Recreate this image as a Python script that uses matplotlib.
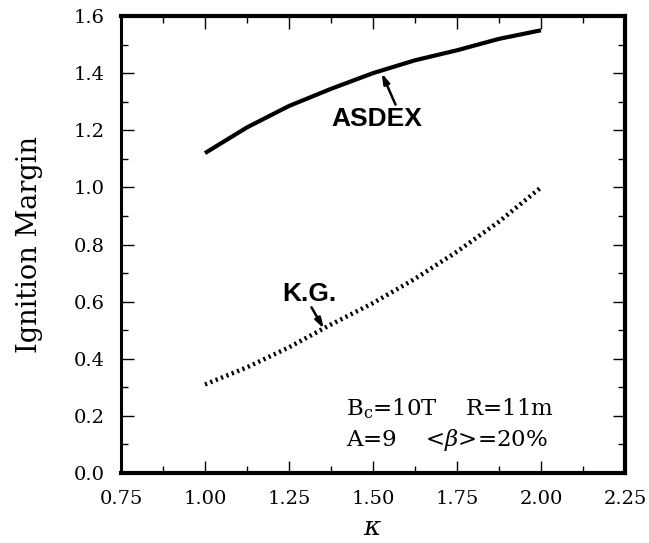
#!/usr/bin/env python3

import matplotlib
matplotlib.use("Agg")
import matplotlib.pyplot as plt
from matplotlib.ticker import MultipleLocator

# elongation scan, ignition margin for the two confinement scalings
kappa = [1.00, 1.125, 1.25, 1.375, 1.50, 1.625, 1.75, 1.875, 2.00]
asdex = [1.12, 1.21, 1.285, 1.345, 1.40, 1.445, 1.48, 1.52, 1.55]
kg = [0.31, 0.37, 0.44, 0.52, 0.595, 0.68, 0.775, 0.88, 1.00]

XTICKS = [0.75, 1.00, 1.25, 1.50, 1.75, 2.00, 2.25]
YTICKS = [0.0, 0.2, 0.4, 0.6, 0.8, 1.0, 1.2, 1.4, 1.6]

SERIF = "DejaVu Serif"
SANS = "Liberation Sans"
plt.rcParams["mathtext.fontset"] = "dejavuserif"

fig = plt.figure(figsize=(6.49, 5.43), dpi=100)
ax = fig.add_axes([0.1864, 0.1289, 0.7766, 0.8416])

ax.plot(kappa, asdex, color="black", lw=3.0, solid_capstyle="butt")
ax.plot(kappa, kg, color="black", lw=3.2, linestyle=(0, (0.5, 0.8)),
        dash_capstyle="butt")

ax.set_xlim(0.75, 2.25)
ax.set_ylim(0.0, 1.6)
ax.set_xticks(XTICKS)
ax.set_xticklabels(["%.2f" % v for v in XTICKS], family=SERIF, fontsize=14)
ax.set_yticks(YTICKS)
ax.set_yticklabels(["%.1f" % v for v in YTICKS], family=SERIF, fontsize=14)
ax.xaxis.set_minor_locator(MultipleLocator(0.125))
ax.yaxis.set_minor_locator(MultipleLocator(0.1))
ax.tick_params(which="both", direction="in", top=True, right=True,
               width=1.0, pad=12)
ax.tick_params(which="major", length=9)
ax.tick_params(which="minor", length=5)

for side in ["top", "right", "bottom"]:
    ax.spines[side].set_linewidth(3.0)
ax.spines["left"].set_linewidth(2.2)

ax.set_ylabel("Ignition Margin", family=SERIF, fontsize=19.5, labelpad=22)
ax.set_xlabel(r"$\kappa$", fontsize=19, labelpad=5)

arrow = dict(arrowstyle="-|>,head_length=0.6,head_width=0.18",
             color="black", lw=1.8, shrinkA=0, shrinkB=0)
ax.annotate("", xy=(1.526, 1.40), xytext=(1.567, 1.29), arrowprops=arrow)
ax.text(1.512, 1.239, "ASDEX", family=SANS, weight="bold", fontsize=19,
        ha="center", va="center")
ax.annotate("", xy=(1.354, 0.505), xytext=(1.317, 0.58), arrowprops=arrow)
ax.text(1.31, 0.628, "K.G.", family=SANS, weight="bold", fontsize=19,
        ha="center", va="center")

ax.text(1.42, 0.225, r"B$_{\rm c}$=10T    R=11m", family=SERIF,
        fontsize=16.5, ha="left", va="center")
ax.text(1.42, 0.115, r"A=9    <$\beta$>=20%", family=SERIF,
        fontsize=16.5, ha="left", va="center")

fig.savefig("out.png", dpi=100)
